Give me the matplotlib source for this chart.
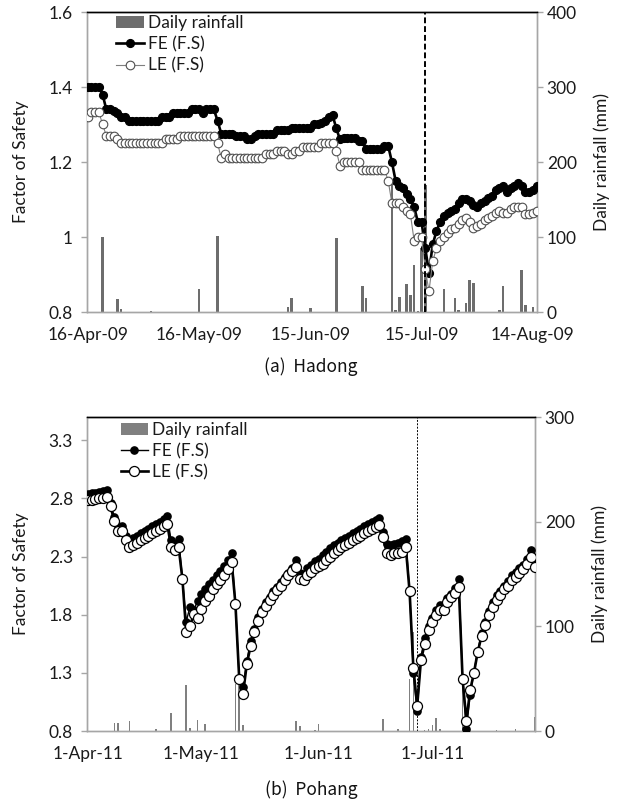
import numpy as np
import pandas as pd
import matplotlib
matplotlib.use("Agg")
import matplotlib.pyplot as plt
from matplotlib.patches import Patch
from matplotlib.lines import Line2D

plt.rcParams['font.family'] = ['Lato', 'DejaVu Sans']

# ---------------- (a) Hadong, daily from 16-Apr-2009 ----------------
start_a = '2009-04-16'
fe_a = [
    1.40, 1.40, 1.40, 1.40, 1.38, 1.34, 1.34, 1.335, 1.33, 1.32,
    1.32, 1.31, 1.31, 1.31, 1.31, 1.31, 1.31, 1.31, 1.31, 1.31,
    1.32, 1.32, 1.32, 1.33, 1.33, 1.33, 1.33, 1.33, 1.34, 1.34,
    1.34, 1.33, 1.34, 1.34, 1.34, 1.31, 1.275, 1.275, 1.275, 1.275,
    1.27, 1.27, 1.27, 1.26, 1.26, 1.27, 1.275, 1.275, 1.275, 1.275,
    1.275, 1.285, 1.285, 1.285, 1.285, 1.29, 1.29, 1.29, 1.29, 1.29,
    1.29, 1.30, 1.30, 1.305, 1.31, 1.32, 1.325, 1.29, 1.26, 1.265,
    1.265, 1.265, 1.265, 1.255, 1.255, 1.235, 1.235, 1.235, 1.235, 1.235,
    1.243, 1.243, 1.20, 1.15, 1.135, 1.13, 1.115, 1.10, 1.08, 1.04,
    1.04, 0.97, 0.905, 0.98, 1.015, 1.04, 1.055, 1.065, 1.07, 1.075,
    1.09, 1.10, 1.10, 1.095, 1.085, 1.08, 1.09, 1.095, 1.105, 1.11,
    1.125, 1.13, 1.135, 1.12, 1.13, 1.135, 1.145, 1.135, 1.12, 1.12,
    1.125, 1.135]
le_a = [
    1.32, 1.333, 1.333, 1.333, 1.30, 1.27, 1.27, 1.27, 1.26, 1.25,
    1.25, 1.25, 1.25, 1.25, 1.25, 1.25, 1.25, 1.25, 1.25, 1.25,
    1.25, 1.26, 1.26, 1.26, 1.26, 1.27, 1.27, 1.27, 1.27, 1.27,
    1.27, 1.27, 1.27, 1.27, 1.27, 1.25, 1.21, 1.22, 1.21, 1.21,
    1.21, 1.21, 1.21, 1.21, 1.21, 1.21, 1.21, 1.21, 1.22, 1.22,
    1.22, 1.23, 1.23, 1.23, 1.22, 1.22, 1.23, 1.23, 1.24, 1.24,
    1.24, 1.24, 1.24, 1.25, 1.25, 1.25, 1.25, 1.23, 1.19, 1.20,
    1.20, 1.20, 1.20, 1.20, 1.18, 1.18, 1.18, 1.18, 1.18, 1.18,
    1.18, 1.15, 1.09, 1.09, 1.09, 1.08, 1.07, 1.06, 0.99, 1.00,
    1.00, 0.915, 0.855, 0.935, 0.97, 0.99, 1.00, 1.01, 1.02, 1.025,
    1.035, 1.045, 1.05, 1.04, 1.025, 1.03, 1.035, 1.045, 1.05, 1.055,
    1.065, 1.07, 1.065, 1.065, 1.075, 1.08, 1.08, 1.08, 1.06, 1.06,
    1.065, 1.07]
rain_a = [
    0, 0, 0, 0, 100, 0, 0, 0, 17, 3.5,
    0, 0, 0, 0, 0, 0, 0, 1, 0, 0,
    0, 0, 0, 0, 0, 0, 0, 0, 0, 0,
    31, 0, 0, 0, 0, 101, 0, 0, 0, 0,
    0, 0, 0, 0, 0, 0, 0, 0, 0, 0,
    0, 0, 0, 0, 6, 18, 0, 0, 0, 0,
    5, 0, 0, 0, 0, 0, 0, 98, 0, 0,
    0, 0, 0, 0, 35, 19, 0, 0, 0, 0,
    0, 0, 170, 3, 20, 0, 37, 23, 63, 1,
    85, 169, 0, 0, 0, 0, 30, 0, 0, 19,
    2, 0, 12, 43, 38, 0, 0, 0, 0, 0,
    0, 2, 35, 0, 0, 0, 0, 56, 9, 0,
    7, 0]
xticklabels_a = ['16-Apr-09', '16-May-09', '15-Jun-09', '15-Jul-09', '14-Aug-09']
yticks_a = [0.8, 1.0, 1.2, 1.4, 1.6]
yticklabels_a = ['0.8', '1', '1.2', '1.4', '1.6']
rticks_a = [0, 100, 200, 300, 400]
event_a = '2009-07-16'

# ---------------- (b) Pohang, daily from 1-Apr-2011 ----------------
start_b = '2011-04-01'
fe_b = [
    2.84, 2.845, 2.85, 2.855, 2.865, 2.875, 2.76, 2.64, 2.56, 2.56,
    2.48, 2.43, 2.46, 2.48, 2.50, 2.52, 2.54, 2.56, 2.58, 2.60,
    2.62, 2.65, 2.44, 2.41, 2.45, 2.11, 1.74, 1.87, 1.84, 1.92,
    1.98, 2.02, 2.06, 2.10, 2.14, 2.18, 2.22, 2.27, 2.33, 1.89,
    1.25, 1.18, 1.40, 1.575, 1.68, 1.78, 1.85, 1.91, 1.955, 2.00,
    2.04, 2.08, 2.12, 2.16, 2.20, 2.27, 2.16, 2.15, 2.20, 2.23,
    2.26, 2.28, 2.31, 2.34, 2.37, 2.40, 2.42, 2.44, 2.46, 2.48,
    2.50, 2.52, 2.54, 2.56, 2.58, 2.60, 2.615, 2.635, 2.51, 2.41,
    2.40, 2.41, 2.42, 2.43, 2.45, 2.00, 1.30, 0.97, 1.44, 1.60,
    1.70, 1.77, 1.84, 1.88, 1.875, 1.94, 1.98, 2.03, 2.105, 1.24,
    0.815, 1.11, 1.31, 1.49, 1.64, 1.74, 1.83, 1.91, 1.97, 2.00,
    2.05, 2.09, 2.14, 2.17, 2.20, 2.23, 2.28, 2.36, 2.246]
le_b = [
    2.785, 2.79, 2.795, 2.80, 2.805, 2.81, 2.733, 2.607, 2.52, 2.52,
    2.44, 2.38, 2.40, 2.42, 2.44, 2.46, 2.48, 2.50, 2.52, 2.54,
    2.56, 2.58, 2.38, 2.36, 2.38, 2.105, 1.65, 1.70, 1.81, 1.77,
    1.845, 1.92, 1.96, 2.02, 2.06, 2.10, 2.14, 2.19, 2.255, 1.89,
    1.25, 1.12, 1.376, 1.53, 1.65, 1.75, 1.825, 1.874, 1.925, 1.97,
    2.01, 2.05, 2.10, 2.14, 2.18, 2.21, 2.11, 2.10, 2.14, 2.17,
    2.20, 2.22, 2.24, 2.27, 2.30, 2.33, 2.36, 2.38, 2.40, 2.42,
    2.44, 2.46, 2.48, 2.50, 2.52, 2.54, 2.555, 2.57, 2.47, 2.33,
    2.31, 2.33, 2.33, 2.34, 2.38, 2.00, 1.34, 1.015, 1.41, 1.55,
    1.67, 1.74, 1.80, 1.84, 1.84, 1.91, 1.955, 1.99, 2.04, 1.245,
    0.89, 1.15, 1.30, 1.48, 1.615, 1.71, 1.795, 1.87, 1.93, 1.97,
    2.02, 2.05, 2.10, 2.125, 2.155, 2.195, 2.24, 2.30, 2.21]
rain_b = [
    0, 0, 0, 0, 0, 0, 0, 8, 7.7, 0,
    0, 9.6, 0, 0, 0, 0, 0, 0, 2, 0,
    0, 0, 17.6, 0, 0, 0, 43.5, 2.6, 0, 10.5,
    0, 6.4, 0, 0, 0, 0, 0, 0, 0, 45,
    50, 5.4, 0, 0, 0, 0, 0, 0, 0, 0,
    0, 0, 0, 0, 0, 10, 4.5, 0, 0, 0,
    1, 6.4, 0, 0, 0, 0, 0, 0, 0, 0,
    0, 0, 0, 0, 0, 0, 0, 0, 11, 0,
    0, 0, 1.5, 0, 0, 50, 95, 0, 0, 1,
    2, 6, 12, 1.6, 0, 0, 0, 0, 0, 48,
    0, 0, 0, 0, 0, 0, 0, 0, 1, 0,
    0, 0, 0, 1.5, 0, 0, 0, 0, 13]
xticklabels_b = ['1-Apr-11', '1-May-11', '1-Jun-11', '1-Jul-11']
yticks_b = [0.8, 1.3, 1.8, 2.3, 2.8, 3.3]
yticklabels_b = ['0.8', '1.3', '1.8', '2.3', '2.8', '3.3']
rticks_b = [0, 100, 200, 300]
event_b = '2011-06-27'

W, H = 621, 805
fig = plt.figure(figsize=(W / 100, H / 100), dpi=100)
fig.patch.set_facecolor('white')

GRAY = '#a6a6a6'
TICKFS = 12.5
TXT = '#1a1a1a'


def rect(l, t, r, b):
    return [l / W, 1 - b / H, (r - l) / W, (b - t) / H]


def panel(box, start, fe, le, rain, ylim, yticks, yticklabels, rmax, rticks,
          xticklabels, event, style):
    ax = fig.add_axes(box)
    axr = ax.twinx()
    ax.set_zorder(axr.get_zorder() + 1)
    ax.patch.set_visible(False)

    n = len(fe)
    dates = pd.Timestamp(start) + pd.to_timedelta(np.arange(n), unit='D')
    rdates = pd.Timestamp(start) + pd.to_timedelta(np.arange(len(rain)), unit='D')

    axr.bar(rdates, rain, width=style['barw'], color=style['barc'], linewidth=0)
    axr.set_ylim(0, rmax)
    axr.set_yticks(rticks)

    if style['kind'] == 'a':
        ax.plot(dates, fe, '-', color='black', lw=1.9, marker='o', ms=5.6,
                mfc='black', mec='black', zorder=3)
        ax.plot(dates, le, '-', color='#7f7f7f', lw=0.8, marker='o', ms=6.2,
                mfc='white', mec='#505050', mew=0.8, zorder=4)
        h_fe = Line2D([], [], color='black', lw=1.9, marker='o', ms=5.6, mfc='black', mec='black')
        h_le = Line2D([], [], color='#7f7f7f', lw=0.8, marker='o', ms=6.2, mfc='white', mec='#505050', mew=0.8)
        ax.axvline(pd.Timestamp(event), color='black', lw=1.4, ls=(0, (3, 1.5)), zorder=5)
    else:
        ax.plot(dates, fe, '-', color='black', lw=1.0, marker='o', ms=5.2,
                mfc='black', mec='black', zorder=3)
        ax.plot(dates, le, '-', color='black', lw=1.9, marker='o', ms=7.2,
                mfc='white', mec='black', mew=0.9, zorder=4)
        h_fe = Line2D([], [], color='black', lw=1.0, marker='o', ms=5.2, mfc='black', mec='black')
        h_le = Line2D([], [], color='black', lw=1.9, marker='o', ms=7.2, mfc='white', mec='black', mew=0.9)
        ax.axvline(pd.Timestamp(event), color='black', lw=0.7, ls=(0, (2, 1.5)), zorder=2)

    xlim0 = pd.Timestamp(start) - pd.Timedelta(hours=5)
    xlim1 = dates[-1] + pd.Timedelta(hours=3)
    ax.set_xlim(xlim0, xlim1)
    ax.set_ylim(*ylim)
    ax.set_yticks(yticks)
    ax.set_yticklabels(yticklabels)
    xt = [pd.to_datetime(s, format='%d-%b-%y') for s in xticklabels]
    ax.set_xticks(xt)
    ax.set_xticklabels(xticklabels)

    for a in (ax, axr):
        for s in ('left', 'right', 'bottom'):
            a.spines[s].set_color(GRAY)
            a.spines[s].set_linewidth(1.0)
        a.spines['top'].set_color('black')
        a.spines['top'].set_linewidth(1.0)
    ax.tick_params(axis='x', length=0, pad=11, labelsize=TICKFS, colors=TXT)
    ax.tick_params(axis='y', length=4, width=1, color=GRAY, pad=6, labelsize=TICKFS, labelcolor=TXT)
    axr.tick_params(axis='y', length=4, width=1, color=GRAY, pad=3, labelsize=TICKFS, labelcolor=TXT)

    ax.set_ylabel('Factor of Safety', fontsize=TICKFS, color=TXT)
    ax.yaxis.set_label_coords(style['ylx'], 0.5)
    axr.set_ylabel('Daily rainfall (mm)', fontsize=TICKFS, color=TXT)
    axr.yaxis.set_label_coords(style['yrx'], 0.5)

    hb = Patch(facecolor=style['barc'], edgecolor='none')
    leg = ax.legend([hb, h_fe, h_le], ['Daily rainfall', 'FE (F.S)', 'LE (F.S)'],
                    loc='upper left', bbox_to_anchor=style['legpos'], frameon=False,
                    fontsize=TICKFS, handlelength=1.6, handletextpad=0.2,
                    labelspacing=0.3, borderpad=0, borderaxespad=0)
    for t in leg.get_texts():
        t.set_color(TXT)
    return ax, axr


panel(rect(87, 12, 537, 312), start_a, fe_a, le_a, rain_a, (0.8, 1.6), yticks_a,
      yticklabels_a, 400, rticks_a, xticklabels_a, event_a,
      dict(kind='a', barw=0.7, barc='#6d6d6d', ylx=-0.13, yrx=1.125, legpos=(0.065, 0.99)))

panel(rect(87, 417, 535, 731), start_b, fe_b, le_b, rain_b, (0.8, 3.5), yticks_b,
      yticklabels_b, 300, rticks_b, xticklabels_b, event_b,
      dict(kind='b', barw=0.4, barc='#808080', ylx=-0.13, yrx=1.125, legpos=(0.075, 0.985)))

capfont = ['Noto Sans CJK KR', 'DejaVu Sans']
fig.text(311 / W, 1 - 367 / H, '(a)  Hadong', ha='center', va='center', fontsize=12.5,
         family=capfont, color='#111111')
fig.text(311 / W, 1 - 790 / H, '(b)  Pohang', ha='center', va='center', fontsize=12.5,
         family=capfont, color='#111111')

fig.savefig('out.png', dpi=100, facecolor='white')
